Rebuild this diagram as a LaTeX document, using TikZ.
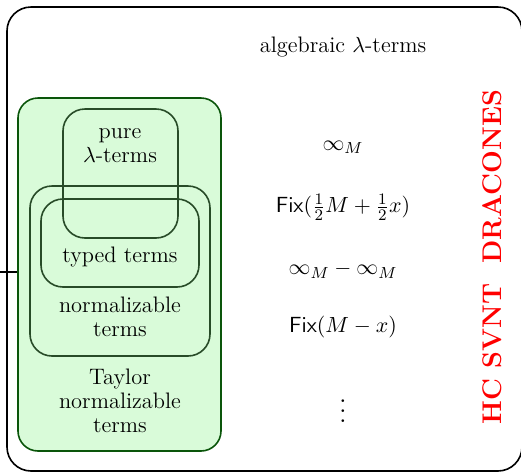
\documentclass[tikz,border=0pt]{standalone}
\usepackage{amsmath}
\definecolor{gfill}{RGB}{217,251,217}
\definecolor{gdark}{RGB}{10,85,10}
\definecolor{ginner}{RGB}{40,75,40}
\begin{document}
\begin{tikzpicture}[x=0.5pt,y=-0.5pt,
  every node/.style={font=\fontsize{11.2}{12}\selectfont},
  outerbox/.style={draw=black,line width=0.8pt,rounded corners=12pt},
  taylorbox/.style={draw=gdark,fill=gfill,line width=0.8pt,rounded corners=10pt},
  innerbox/.style={draw=ginner,line width=0.8pt,rounded corners=11pt},
  lbl/.style={align=center,inner sep=0pt},
  term/.style={inner sep=0pt}]
\useasboundingbox (0,0) rectangle (521,472);
\draw[outerbox] (7,7) rectangle (522,471);
\node[taylorbox,minimum width=101.5pt,minimum height=176.5pt,inner sep=0pt] (taylor) at (119.5,274.5) {};
\node[innerbox,minimum width=57.5pt,minimum height=64.5pt,inner sep=0pt] (pure) at (120.5,173.5) {};
\node[innerbox,minimum width=90pt,minimum height=85pt,inner sep=0pt] (norm) at (120,271) {};
\node[innerbox,minimum width=79pt,minimum height=44pt,inner sep=0pt] (typed) at (120,243) {};
\coordinate (stub) at (0,272);
\draw[line width=0.6pt] (stub) -- (stub -| taylor.west);
\node[lbl] (purel) at (120,146) {pure\\$\lambda$-terms};
\node[lbl] (typedl) at (120,257) {typed terms};
\node[lbl] (norml) at (120,317) {normalizable\\terms};
\node[lbl] (taylorl) at (120,401) {Taylor\\normalizable\\terms};
\node[lbl] (alg) at (343,47) {algebraic $\lambda$-terms};
\node[term] (t1) at (343,147) {$\infty_M$};
\node[term] (t2) at (343,207) {$\mathsf{Fix}(\tfrac12 M+\tfrac12 x)$};
\node[term] (t3) at (343,270) {$\infty_M-\infty_M$};
\node[term] (t4) at (343,327) {$\mathsf{Fix}(M-x)$};
\node[term,scale=1.25] (t5) at (343,404) {$\vdots$};
\node[rotate=90,text=red,inner sep=0pt,font=\fontsize{13.5}{14}\selectfont\bfseries] (hc) at (492,257) {HC SVNT\ \ DRACONES};
\end{tikzpicture}
\end{document}
